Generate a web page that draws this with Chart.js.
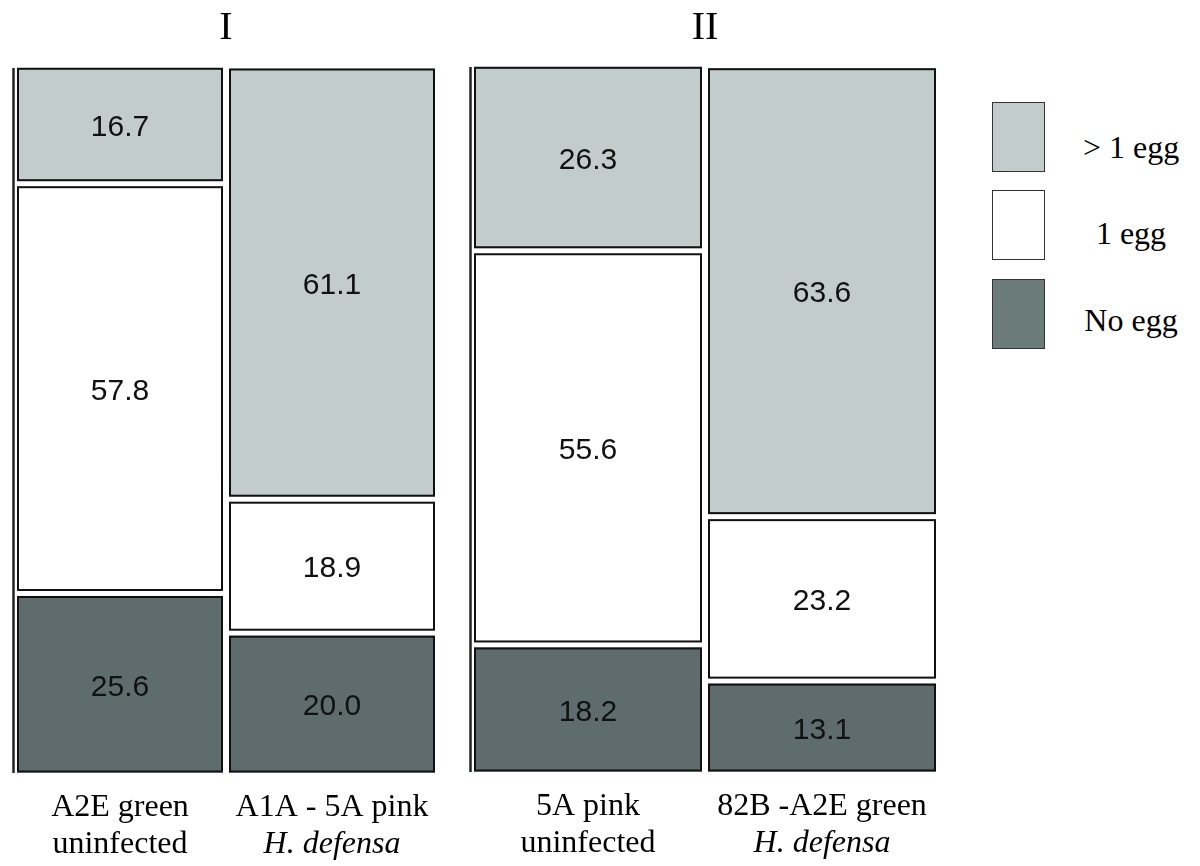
<!DOCTYPE html>
<html>
<head>
<meta charset="utf-8">
<script src="https://cdn.jsdelivr.net/npm/chart.js@4.4.0/dist/chart.umd.min.js"></script>
<style>
  body { margin: 0; background: #fff; width: 1200px; height: 866px; position: relative; overflow: hidden; }
  .panel { position: absolute; top: 0; height: 866px; }
  #p1 { left: 0; width: 445px; }
  #p2 { left: 445px; width: 500px; }
  .lg-box { position: absolute; left: 992px; width: 53px; height: 70px; border: 1px solid #333; box-sizing: border-box; }
  .lg-text { position: absolute; left: 1062px; width: 138px; text-align: center; white-space: nowrap;
             font: 32px 'Liberation Serif', 'Times New Roman', serif; line-height: 32px; color: #000; }
</style>
</head>
<body>
<div class="panel" id="p1"><canvas id="c1"></canvas></div>
<div class="panel" id="p2"><canvas id="c2"></canvas></div>
<div id="legend"></div>
<script>
// data
var panelTitles = ['I', 'II'];
var seriesNames = ['> 1 egg', '1 egg', 'No egg'];

var groupsI_line1 = ['A2E green', 'A1A - 5A pink'];
var groupsI_line2 = ['uninfected', 'H. defensa'];
var moreEggI = [16.7, 61.1];
var oneEggI = [57.8, 18.9];
var noEggI = [25.6, 20.0];

var groupsII_line1 = ['5A pink', '82B -A2E green'];
var groupsII_line2 = ['uninfected', 'H. defensa'];
var moreEggII = [26.3, 63.6];
var oneEggII = [55.6, 23.2];
var noEggII = [18.2, 13.1];

var italicLine2 = [false, true];

// styles
var barColors = ['#c1cccb', '#ffffff', '#5e6c6e'];
var legendColors = ['#c2cdcb', '#ffffff', '#6b7b77'];

var boxPlugin = {
    id: 'boxes',
    beforeDatasetsDraw: function(chart) {
        var ctx = chart.ctx;
        var area = chart.chartArea;
        var firstLeft = null;
        ctx.save();
        chart.data.datasets.forEach(function(ds, di) {
            var meta = chart.getDatasetMeta(di);
            meta.data.forEach(function(bar, i) {
                var p = bar.getProps(['x', 'y', 'base', 'width'], true);
                var l = p.x - p.width / 2, r = p.x + p.width / 2;
                var t = Math.min(p.y, p.base) + 2.5;
                var b = Math.max(p.y, p.base) - 2.5;
                if (firstLeft === null || l < firstLeft) firstLeft = l;
                ctx.fillStyle = ds.backgroundColor;
                ctx.fillRect(l, t, r - l, b - t);
                ctx.lineWidth = 2;
                ctx.strokeStyle = '#111';
                ctx.strokeRect(l + 1, t + 1, r - l - 2, b - t - 2);
                ctx.fillStyle = '#111';
                ctx.font = '30px "Liberation Sans", Arial, sans-serif';
                ctx.textAlign = 'center';
                ctx.textBaseline = 'middle';
                ctx.fillText(ds.data[i].toFixed(1), p.x, (t + b) / 2 + 3);
            });
        });
        // y axis line
        ctx.beginPath();
        ctx.lineWidth = 2.5;
        ctx.strokeStyle = '#222';
        ctx.moveTo(firstLeft - 3.5, area.top + 2);
        ctx.lineTo(firstLeft - 3.5, area.bottom - 2);
        ctx.stroke();
        ctx.restore();
        return false;
    }
};

function makeChart(id, title, line1, line2, noEgg, oneEgg, moreEgg, pad, pct) {
    var labelFont = { family: "'Liberation Serif', 'Times New Roman', serif", size: 32 };
    return new Chart(document.getElementById(id), {
        type: 'bar',
        data: {
            labels: line1,
            datasets: [
                { label: seriesNames[2], data: noEgg, backgroundColor: barColors[2] },
                { label: seriesNames[1], data: oneEgg, backgroundColor: barColors[1] },
                { label: seriesNames[0], data: moreEgg, backgroundColor: barColors[0] }
            ]
        },
        options: {
            responsive: true,
            maintainAspectRatio: false,
            animation: false,
            barPercentage: 1,
            categoryPercentage: pct,
            layout: { padding: { left: pad.left, right: pad.right, top: 0, bottom: 0 } },
            plugins: {
                legend: { display: false },
                tooltip: { enabled: false },
                title: {
                    display: true,
                    text: title,
                    color: '#000',
                    font: { family: labelFont.family, size: 40, weight: 'normal' },
                    padding: { top: 4.5, bottom: pad.titleBottom }
                }
            },
            scales: {
                x: {
                    stacked: true,
                    weight: 0,
                    grid: { display: false, drawTicks: false },
                    border: { display: false },
                    ticks: { color: '#000', font: labelFont, padding: 13, maxRotation: 0, autoSkip: false },
                    afterFit: function(s) { s.height = 48; }
                },
                x2: {
                    type: 'category',
                    labels: line2,
                    position: 'bottom',
                    offset: true,
                    weight: 1,
                    grid: { display: false, drawTicks: false },
                    border: { display: false },
                    ticks: {
                        color: '#000',
                        padding: 2,
                        maxRotation: 0,
                        autoSkip: false,
                        font: function(c) {
                            return { family: labelFont.family, size: 32, style: italicLine2[c.index] ? 'italic' : 'normal' };
                        }
                    },
                    afterFit: function(s) { s.height = pad.line2Height; }
                },
                y: { stacked: true, display: false, min: 0, max: 100 }
            }
        },
        plugins: [boxPlugin]
    });
}

makeChart('c1', panelTitles[0], groupsI_line1, groupsI_line2, noEggI, oneEggI, moreEggI,
    { left: 14, right: 7, titleBottom: 13.5, line2Height: 43 }, 206 / 212);
makeChart('c2', panelTitles[1], groupsII_line1, groupsII_line2, noEggII, oneEggII, moreEggII,
    { left: 26, right: 6, titleBottom: 12.5, line2Height: 44 }, 228 / 234);

// legend
var legendBoxTops = [102, 190, 279];
var legendTextTops = [131, 217, 304];
var legend = document.getElementById('legend');
seriesNames.forEach(function(name, i) {
    var box = document.createElement('div');
    box.className = 'lg-box';
    box.style.top = legendBoxTops[i] + 'px';
    box.style.background = legendColors[i];
    legend.appendChild(box);
    var txt = document.createElement('div');
    txt.className = 'lg-text';
    txt.style.top = legendTextTops[i] + 'px';
    txt.textContent = name;
    legend.appendChild(txt);
});
</script>
</body>
</html>
